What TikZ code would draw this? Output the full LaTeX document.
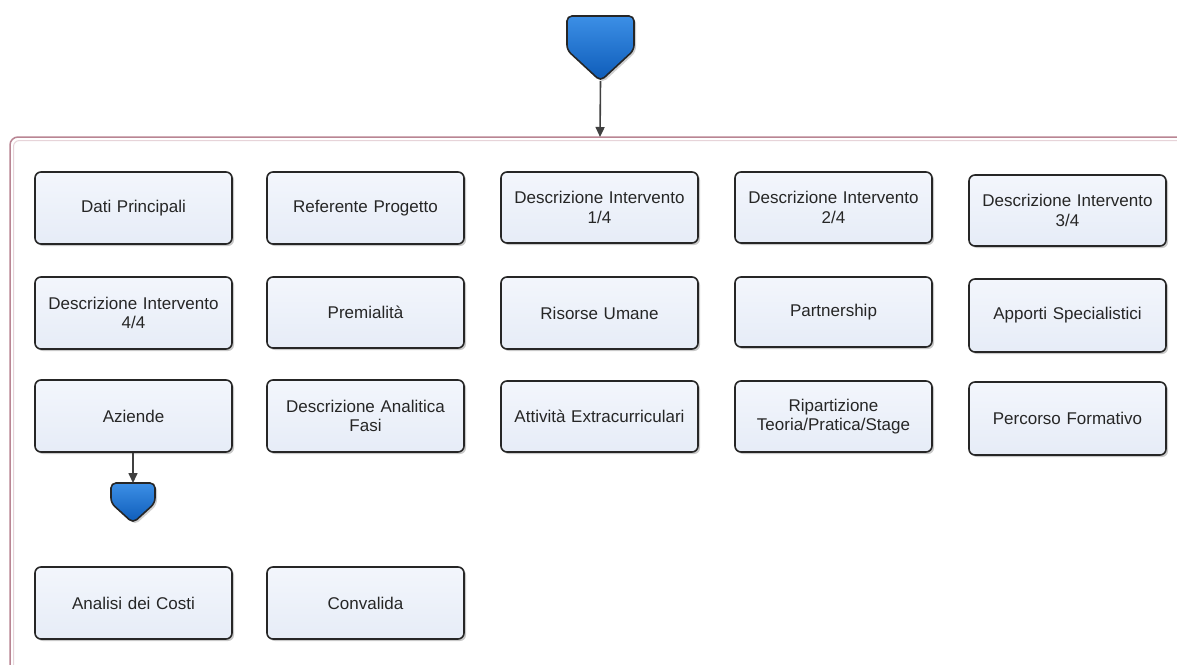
\documentclass[tikz,border=0pt]{standalone}
\usepackage{fontspec}
\setmainfont{Liberation Sans}
\usetikzlibrary{shadows,arrows.meta}
\definecolor{boxfill}{HTML}{E6ECF7}
\definecolor{boxtop}{HTML}{F3F6FC}
\definecolor{frame}{HTML}{B98593}
\definecolor{penblue}{HTML}{3C8FE6}
\definecolor{pendark}{HTML}{0D5BB8}
\tikzset{
  stepbox/.style={draw=black!85, line width=1.6pt, rounded corners=6pt,
    top color=boxtop, bottom color=boxfill,
    drop shadow={shadow xshift=2pt, shadow yshift=-2pt, opacity=0.35, fill=black!60},
    align=center, font=\fontsize{17}{19.5}\selectfont, text=black!85},
  flowarrow/.style={draw=black!75, line width=1.6pt, -{Triangle[length=10pt,width=9pt]}},
  pent/.style={draw=black!85, line width=1.6pt, rounded corners=5pt,
    top color=penblue, bottom color=pendark,
    drop shadow={shadow xshift=2pt, shadow yshift=-2pt, opacity=0.3, fill=black!60}}
}
\newcommand{\mybox}[6]{% name, x1, y1, x2, y2, text
  \node[stepbox, minimum width={#4-#2}, minimum height={#5-#3}, inner sep=0pt, text width={#4-#2-6}]
    (#1) at ({(#2+#4)/2},{(#3+#5)/2}) {#6};}
\begin{document}
\begin{tikzpicture}[x=1pt,y=-1pt]
\useasboundingbox (0,0) rectangle (1177,664);
\fill[white] (0,0) rectangle (1177,664);
% container
\draw[frame, line width=1.5pt, rounded corners=8pt] (1190,137) -- (10,137) -- (10,680);
\draw[frame!35, line width=1pt, rounded corners=6pt] (1190,140.5) -- (13.5,140.5) -- (13.5,680);
\coordinate (frametop) at (600,137);
% top pentagon
\draw[pent] (567,16) -- (634,16) -- (634,50) -- (600.5,81) -- (567,50) -- cycle;
\coordinate (ptop) at (600.5,81);
\draw[flowarrow] (ptop) -- (frametop);
% row 1
\mybox{dati}{35}{172}{232}{244}{Dati Principali}
\mybox{ref}{267}{172}{464}{244}{Referente Progetto}
\mybox{d1}{501}{172}{698}{243}{Descrizione Intervento\\1/4}
\mybox{d2}{735}{172}{932}{243}{Descrizione Intervento\\2/4}
\mybox{d3}{969}{175}{1166}{246}{Descrizione Intervento\\3/4}
% row 2
\mybox{d4}{35}{277}{232}{349}{Descrizione Intervento\\4/4}
\mybox{prem}{267}{277}{464}{348}{Premialità}
\mybox{ris}{501}{277}{698}{349}{Risorse Umane}
\mybox{part}{735}{277}{932}{347}{Partnership}
\mybox{app}{969}{279}{1166}{352}{Apporti Specialistici}
% row 3
\mybox{az}{35}{380}{232}{452}{Aziende}
\mybox{dan}{267}{380}{464}{452}{Descrizione Analitica\\Fasi}
\mybox{att}{501}{381}{698}{452}{Attività Extracurriculari}
\mybox{rip}{735}{381}{932}{452}{Ripartizione\\Teoria/Pratica/Stage}
\mybox{perc}{969}{382}{1166}{455}{Percorso Formativo}
% row 4
\mybox{an}{35}{567}{232}{639}{Analisi dei Costi}
\mybox{conv}{267}{567}{464}{639}{Convalida}
% small pentagon
\draw[pent] (111,483) -- (155,483) -- (155,503) -- (133,523) -- (111,503) -- cycle;
\coordinate (psmall) at (133,483);
\draw[flowarrow] (az.south -| psmall) -- (psmall);
\end{tikzpicture}
\end{document}
